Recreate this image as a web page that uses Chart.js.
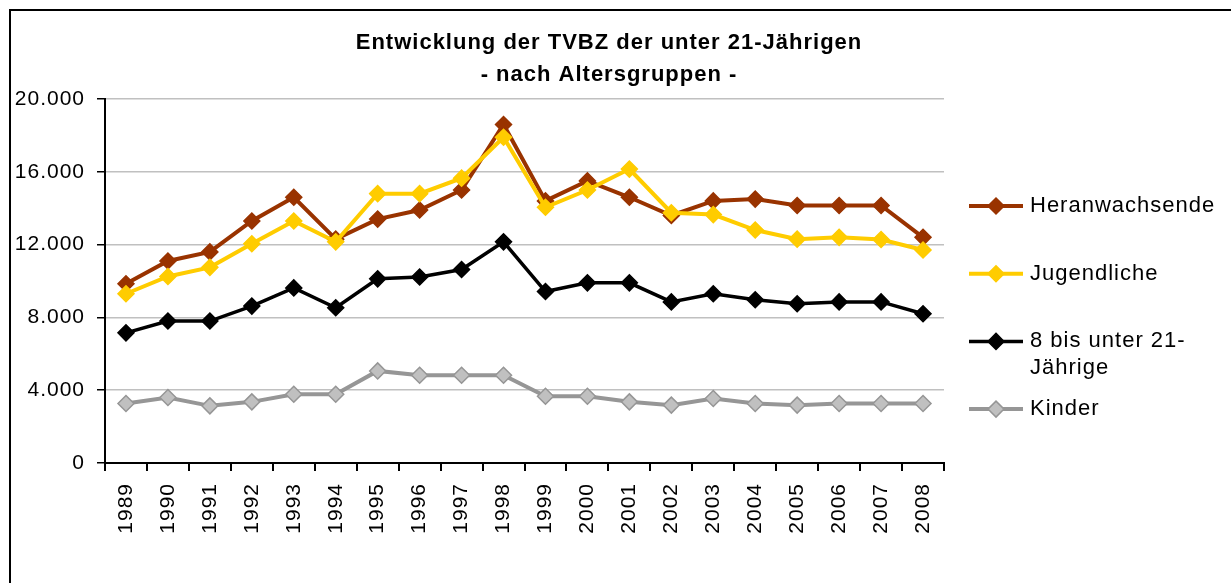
<!DOCTYPE html>
<html>
<head>
<meta charset="utf-8">
<script src="https://cdn.jsdelivr.net/npm/chart.js@4/dist/chart.umd.min.js"></script>
<style>
    html, body { margin: 0; padding: 0; background: #fff; }
    #wrap { position: relative; width: 1231px; height: 583px; }
</style>
</head>
<body>
<div id="wrap"><canvas id="chartTvbz" width="1231" height="583"></canvas></div>
<script>
// Daten
const years = ['1989', '1990', '1991', '1992', '1993', '1994', '1995', '1996', '1997', '1998',
               '1999', '2000', '2001', '2002', '2003', '2004', '2005', '2006', '2007', '2008'];
const heranwachsende = [9850, 11100, 11600, 13300, 14600, 12300, 13400, 13900, 15000, 18600,
                        14400, 15500, 14600, 13600, 14400, 14500, 14150, 14150, 14150, 12400];
const jugendliche = [9300, 10250, 10750, 12050, 13300, 12150, 14800, 14800, 15650, 17900,
                     14050, 15000, 16150, 13750, 13650, 12800, 12300, 12400, 12280, 11700];
const unter21 = [7150, 7800, 7800, 8620, 9620, 8530, 10120, 10220, 10630, 12150,
                 9420, 9900, 9900, 8850, 9300, 8970, 8750, 8850, 8850, 8200];
const kinder = [3270, 3600, 3140, 3360, 3780, 3780, 5060, 4820, 4820, 4820,
                3670, 3670, 3360, 3180, 3545, 3270, 3180, 3270, 3270, 3270];
const yTickLabels = ['0', '4.000', '8.000', '12.000', '16.000', '20.000'];
const titleLines = ['Entwicklung der TVBZ der unter 21-Jährigen', '- nach Altersgruppen -'];

const FONT = '"Liberation Sans", Arial, sans-serif';

function serie(label, data, color, fill, border, width, order) {
    return {
        label: label,
        data: data,
        borderColor: color,
        borderWidth: width,
        backgroundColor: fill,
        pointStyle: 'rectRot',
        pointRadius: 8,
        pointBackgroundColor: fill,
        pointBorderColor: border,
        pointBorderWidth: 1.5,
        tension: 0,
        order: order
    };
}

// etwas breitere Schrift wie im Excel-Original
const spacing = {
    id: 'spacing',
    beforeUpdate(chart) { chart.ctx.letterSpacing = '1px'; },
    beforeDraw(chart) { chart.ctx.letterSpacing = '1px'; }
};

// Rahmen oben/links wie im Original
const frame = {
    id: 'frame',
    beforeDraw(chart) {
        const ctx = chart.ctx;
        ctx.save();
        ctx.strokeStyle = '#000';
        ctx.lineWidth = 2;
        ctx.beginPath();
        ctx.moveTo(10, chart.height);
        ctx.lineTo(10, 10);
        ctx.lineTo(chart.width, 10);
        ctx.stroke();
        ctx.restore();
    }
};

function wrapText(ctx, text, maxWidth) {
    const parts = text.split(/(?<=[ -])/);
    const lines = [];
    let line = '';
    parts.forEach(p => {
        if (line && ctx.measureText(line + p).width > maxWidth) {
            lines.push(line.trim());
            line = p;
        } else {
            line += p;
        }
    });
    if (line) lines.push(line.trim());
    return lines;
}

// Legende rechts: Linie mit Raute + Text
const legendLines = {
    id: 'legendLines',
    afterDraw(chart) {
        const { ctx, chartArea } = chart;
        const x0 = chartArea.right + 25;
        const x1 = chartArea.right + 79;
        const tx = chartArea.right + 86;
        ctx.save();
        ctx.font = '22px ' + FONT;
        ctx.textBaseline = 'middle';
        ctx.textAlign = 'left';
        chart.data.datasets.forEach((ds, i) => {
            const y = chartArea.top + 107 + i * 67.7;
            ctx.strokeStyle = ds.borderColor;
            ctx.lineWidth = ds.borderWidth;
            ctx.beginPath();
            ctx.moveTo(x0, y);
            ctx.lineTo(x1, y);
            ctx.stroke();
            const cx = (x0 + x1) / 2, r = 8;
            ctx.beginPath();
            ctx.moveTo(cx, y - r);
            ctx.lineTo(cx + r, y);
            ctx.lineTo(cx, y + r);
            ctx.lineTo(cx - r, y);
            ctx.closePath();
            ctx.fillStyle = ds.pointBackgroundColor;
            ctx.fill();
            ctx.strokeStyle = ds.pointBorderColor;
            ctx.lineWidth = 1.5;
            ctx.stroke();
            ctx.fillStyle = '#000';
            wrapText(ctx, ds.label, chart.width - tx - 12).forEach((line, k) => {
                ctx.fillText(line, tx, y + k * 27);
            });
        });
        ctx.restore();
    }
};

const ctx = document.getElementById('chartTvbz');
new Chart(ctx, {
    type: 'line',
    data: {
        labels: years,
        datasets: [
            serie('Heranwachsende', heranwachsende, '#993300', '#993300', '#993300', 4, 2),
            serie('Jugendliche', jugendliche, '#FFCC00', '#FFCC00', '#FFCC00', 4, 1),
            serie('8 bis unter 21-Jährige', unter21, '#000000', '#000000', '#000000', 3.5, 3),
            serie('Kinder', kinder, '#969696', '#C0C0C0', '#969696', 4, 4)
        ]
    },
    options: {
        responsive: false,
        animation: false,
        devicePixelRatio: 1,
        layout: { padding: { left: 4, right: 17, top: 0, bottom: 0 } },
        scales: {
            x: {
                type: 'category',
                offset: true,
                grid: {
                    offset: true,
                    drawOnChartArea: false,
                    drawTicks: true,
                    tickLength: 8,
                    tickColor: '#000',
                    lineWidth: 2
                },
                border: { color: '#000', width: 2 },
                ticks: {
                    autoSkip: false,
                    minRotation: 90,
                    maxRotation: 90,
                    padding: 12,
                    color: '#000',
                    font: { family: FONT, size: 21 }
                },
                afterFit: s => { s.height = 120; }
            },
            y: {
                min: 0,
                max: 20000,
                ticks: {
                    stepSize: 4000,
                    padding: 12,
                    color: '#000',
                    font: { family: FONT, size: 21 },
                    callback: (v, i) => yTickLabels[i]
                },
                grid: {
                    color: '#c0c0c0',
                    lineWidth: 1.5,
                    drawTicks: true,
                    tickLength: 8,
                    tickColor: '#000'
                },
                border: { color: '#000', width: 2 },
                afterFit: s => { s.width = 101; }
            },
            yLegend: {
                position: 'right',
                display: true,
                grid: { display: false },
                ticks: { display: false },
                border: { display: false },
                afterFit: s => { s.width = 270; }
            }
        },
        plugins: {
            legend: { display: false },
            tooltip: { enabled: false },
            title: {
                display: true,
                text: titleLines,
                color: '#000',
                font: { family: FONT, size: 22, weight: 'bold', lineHeight: '32px' },
                padding: { top: 27, bottom: 8 }
            }
        }
    },
    plugins: [spacing, frame, legendLines]
});
</script>
</body>
</html>
